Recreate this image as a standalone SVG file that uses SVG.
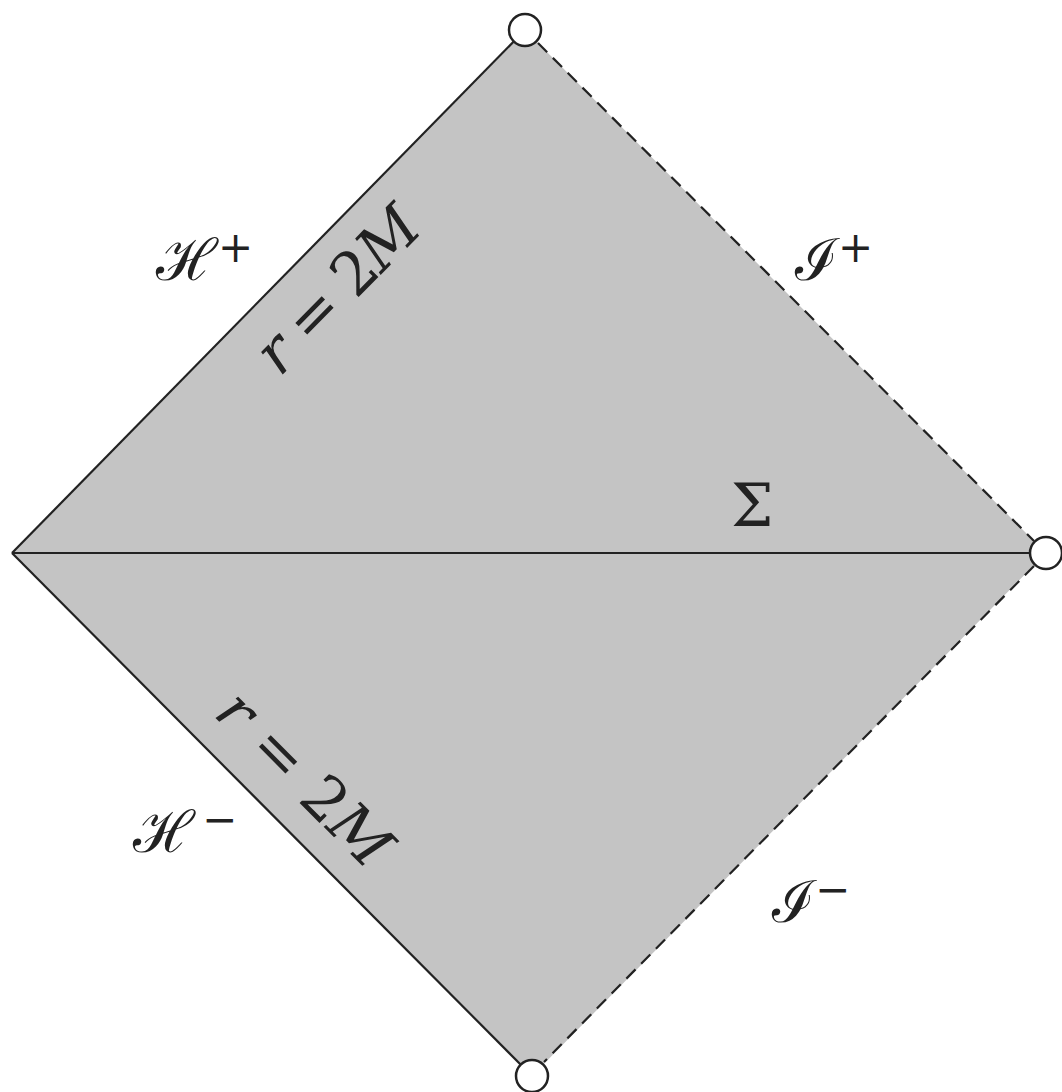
<svg xmlns="http://www.w3.org/2000/svg" width="1062" height="1092" viewBox="0 0 1062 1092">
<style>
.edge{stroke:#222;stroke-width:2.2;fill:none}
.dash{stroke:#222;stroke-width:2.2;fill:none;stroke-dasharray:13 8}
.vtx{fill:#fff;stroke:#222;stroke-width:2.5}
.cal{font-family:"DejaVu Serif",serif;font-size:58px;fill:#222}
.sup{font-family:"DejaVu Serif",serif;font-size:42px;fill:#222}
.math{font-family:"DejaVu Serif",serif;font-style:italic;font-size:60px;fill:#222}
.rm{font-family:"DejaVu Serif",serif;font-size:60px;fill:#222}
</style>
<rect width="1062" height="1092" fill="#fff"/>
<g id="region">
<polygon points="12,553 525,30 1046,553 532,1076" fill="#c4c4c4"/>
</g>
<g id="connectors">
<line class="edge" x1="12" y1="553" x2="525" y2="30"/>
<line class="edge" x1="12" y1="553" x2="532" y2="1076"/>
<line class="edge" x1="12" y1="553" x2="1046" y2="553"/>
<line class="dash" x1="538" y1="43" x2="1034" y2="541"/>
<line class="dash" x1="1034" y1="566" x2="544" y2="1062"/>
</g>
<g id="top"><circle class="vtx" cx="525" cy="30" r="16"/></g>
<g id="right"><circle class="vtx" cx="1046" cy="553" r="16"/></g>
<g id="bottom"><circle class="vtx" cx="532" cy="1076" r="16"/></g>
<g id="left"></g>
<g id="labels">
<text class="cal" x="156" y="280">ℋ</text><text class="sup" x="218" y="262">+</text>
<text class="cal" x="133" y="852">ℋ</text><text class="sup" x="202" y="834">−</text>
<text class="cal" x="795" y="280">ℐ</text><text class="sup" x="838" y="262">+</text>
<text class="cal" x="772" y="922">ℐ</text><text class="sup" x="815" y="904">−</text>
<text class="rm" x="731" y="526" font-size="48">Σ</text>
<g transform="translate(352,304) rotate(-45.5)">
<text x="0" y="0" text-anchor="middle" textLength="206" lengthAdjust="spacing"><tspan class="math">r</tspan><tspan class="rm"> = 2</tspan><tspan class="math">M</tspan></text>
</g>
<g transform="translate(290,793) rotate(45.2)">
<text x="0" y="0" text-anchor="middle" textLength="220" lengthAdjust="spacing"><tspan class="math">r</tspan><tspan class="rm"> = 2</tspan><tspan class="math">M</tspan></text>
</g>
</g>
</svg>
